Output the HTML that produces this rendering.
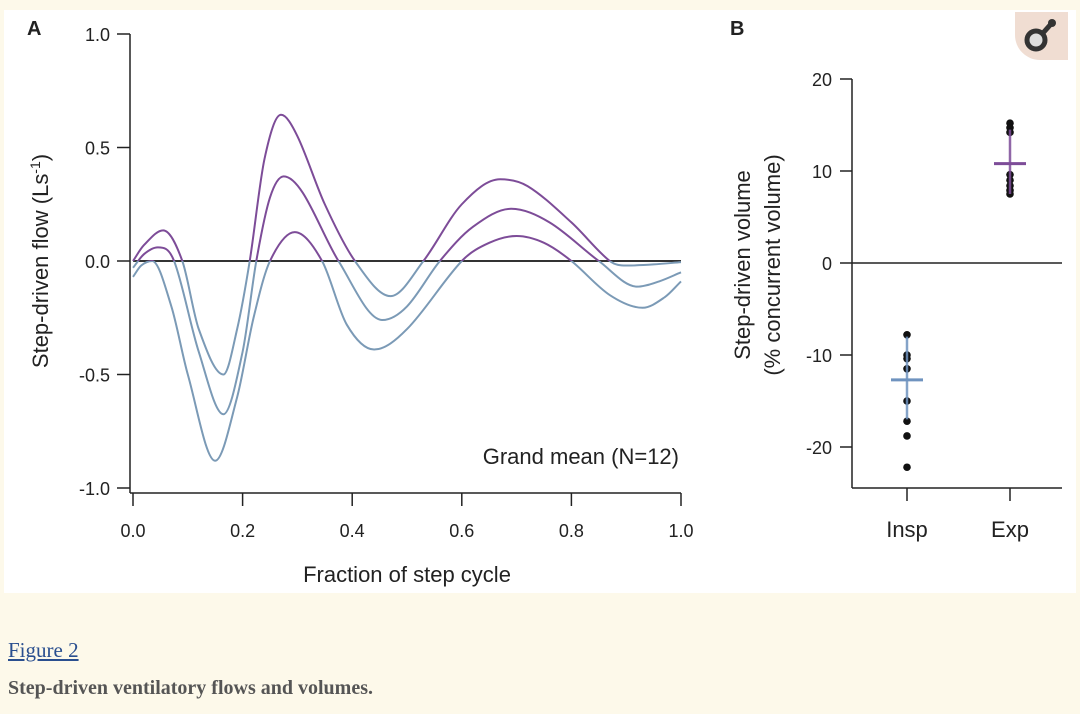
<!DOCTYPE html>
<html><head><meta charset="utf-8"><style>
body{margin:0;width:1080px;height:714px;background:#fdf9ea;overflow:hidden;font-family:"Liberation Sans",sans-serif}
svg text{font-family:"Liberation Sans",sans-serif;fill:#222}
.cap{position:absolute;left:8px;font-family:"Liberation Serif",serif}
</style></head><body>
<svg width="1080" height="600" style="position:absolute;left:0;top:0">
<rect x="4" y="10" width="1072" height="583" fill="#fff"/>
<g id="pa"></g>
<g id="pb"></g>
<g>
<path d="M1015 12 H1068 V60 H1040 A25 25 0 0 1 1015 35 Z" fill="#f0ddd2"/>
<circle cx="1036" cy="40" r="9" fill="#ddd" stroke="#333" stroke-width="5"/>
<line x1="1043" y1="33" x2="1051" y2="24" stroke="#333" stroke-width="5"/>
<circle cx="1052" cy="23" r="4" fill="#333"/>
</g>
</svg>
<a class="cap" style="top:638px;font-size:21px;color:#2a4f8f;text-decoration:underline">Figure 2</a>
<div class="cap" style="top:677px;font-size:20px;font-weight:bold;color:#555">Step-driven ventilatory flows and volumes.</div>
<script>
const NS="http://www.w3.org/2000/svg";
const xsUpper=[0,0.02,0.055,0.09,0.12,0.165,0.19,0.213,0.24,0.27,0.3,0.35,0.405,0.47,0.53,0.6,0.67,0.72,0.8,0.87,0.9,0.95,1.0];
const ysUpper=[0,0.07,0.135,0,-0.3,-0.5,-0.3,0,0.45,0.644,0.55,0.25,0,-0.155,0,0.25,0.36,0.33,0.17,0,-0.02,-0.015,-0.005];
const xsMid=[0,0.02,0.045,0.075,0.12,0.165,0.2,0.225,0.25,0.275,0.31,0.375,0.455,0.5,0.56,0.62,0.69,0.76,0.85,0.92,0.96,1.0];
const ysMid=[-0.03,0.03,0.06,0,-0.4,-0.675,-0.4,0,0.28,0.373,0.3,0,-0.26,-0.2,0,0.15,0.23,0.17,0,-0.113,-0.09,-0.05];
const xsLow=[0,0.015,0.035,0.07,0.1,0.15,0.19,0.22,0.25,0.295,0.345,0.39,0.44,0.5,0.6,0.65,0.7,0.75,0.8,0.87,0.93,0.97,1.0];
const ysLow=[-0.07,-0.02,0,-0.2,-0.5,-0.88,-0.6,-0.25,0,0.127,0,-0.28,-0.39,-0.3,0,0.08,0.11,0.08,0,-0.15,-0.206,-0.16,-0.09];
const xTicksA=[0,0.2,0.4,0.6,0.8,1.0];
const xTickLabelsA=["0.0","0.2","0.4","0.6","0.8","1.0"];
const yTicksA=[1,0.5,0,-0.5,-1];
const yTickLabelsA=["1.0","0.5","0.0","-0.5","-1.0"];
const inspPoints=[-7.8,-10,-10.4,-11.5,-15,-17.2,-18.8,-22.2];
const expPoints=[15.2,14.7,14.2,9.6,9,8.4,7.9,7.5];
const groupMeans=[-12.7,10.8];
const groupLow=[-17,7.5];
const groupHigh=[-8,14.5];
const groupNames=["Insp","Exp"];
const yTicksB=[20,10,0,-10,-20];

const ax=v=>133+v*548, ay=v=>261-v*227;
const bx=i=>[907,1010][i], by=v=>263-v*9.2;
function el(p,t,a){const e=document.createElementNS(NS,t);for(const k in a)e.setAttribute(k,a[k]);p.appendChild(e);return e;}
function txt(p,x,y,s,size,anchor,rot){const t=el(p,"text",{x:x,y:y,"font-size":size,"text-anchor":anchor||"middle"});if(rot)t.setAttribute("transform",`rotate(-90 ${x} ${y})`);t.textContent=s;return t;}
const A=document.getElementById("pa"),B=document.getElementById("pb");
const defs=el(A,"defs",{});
const c1=el(defs,"clipPath",{id:"above"});el(c1,"rect",{x:0,y:0,width:1080,height:ay(0)});
const c2=el(defs,"clipPath",{id:"below"});el(c2,"rect",{x:0,y:ay(0),width:1080,height:600});
const tA=txt(A,27,35,"A",20,"start");tA.setAttribute("font-weight","bold");


const yl=el(A,"line",{x1:130,y1:ay(1),x2:130,y2:493,stroke:"#222","stroke-width":1.5});


const xl=el(A,"line",{x1:130,y1:493,x2:ax(1),y2:493,stroke:"#222","stroke-width":1.5});


yTicksA.forEach((v,i)=>{el(A,"line",{x1:117,y1:ay(v),x2:130,y2:ay(v),stroke:"#222","stroke-width":1.5});
const t=txt(A,110,ay(v)+7,yTickLabelsA[i],18,"end");

});
xTicksA.forEach((v,i)=>{el(A,"line",{x1:ax(v),y1:493,x2:ax(v),y2:506,stroke:"#222","stroke-width":1.5});
const t=txt(A,ax(v),537,xTickLabelsA[i],18);

});
const xt=txt(A,407,582,"Fraction of step cycle",22);


const yt=el(A,"text",{x:48,y:261,"font-size":22,"text-anchor":"middle",transform:"rotate(-90 48 261)"});
yt.innerHTML='Step-driven flow (Ls<tspan dy="-8" font-size="14">-1</tspan><tspan dy="8">)</tspan>';


const gm=txt(A,679,464,"Grand mean (N=12)",22,"end");


const z=el(A,"line",{x1:133,y1:ay(0),x2:ax(1),y2:ay(0),stroke:"#333","stroke-width":2});


function pathD(xs,ys){const n=xs.length;const m=[];
for(let i=0;i<n;i++){
 if(i===0)m.push((ys[1]-ys[0])/(xs[1]-xs[0]));
 else if(i===n-1)m.push((ys[n-1]-ys[n-2])/(xs[n-1]-xs[n-2]));
 else{const a=ys[i]-ys[i-1],b=ys[i+1]-ys[i];
  if(a*b<=0)m.push(0);else m.push((ys[i+1]-ys[i-1])/(xs[i+1]-xs[i-1]));}}
let d=`M${ax(xs[0])},${ay(ys[0])}`;
for(let i=0;i<n-1;i++){const h=(xs[i+1]-xs[i])/3;
d+=`C${ax(xs[i]+h)},${ay(ys[i]+m[i]*h)} ${ax(xs[i+1]-h)},${ay(ys[i+1]-m[i+1]*h)} ${ax(xs[i+1])},${ay(ys[i+1])}`;}
return d;}
[[xsUpper,ysUpper,"upper-bound-line"],[xsMid,ysMid,"mean-flow-line"],[xsLow,ysLow,"lower-bound-line"]].forEach(s=>{
const d=pathD(s[0],s[1]);
const g=el(A,"g",{});


el(g,"path",{d:d,fill:"none",stroke:"#7d4c98","stroke-width":2,"clip-path":"url(#above)"});
el(g,"path",{d:d,fill:"none",stroke:"#7b9ab6","stroke-width":2,"clip-path":"url(#below)"});});
const tB=txt(B,730,35,"B",20,"start");tB.setAttribute("font-weight","bold");


const yb=el(B,"line",{x1:852,y1:by(20),x2:852,y2:488,stroke:"#222","stroke-width":1.5});


const xb=el(B,"line",{x1:852,y1:488,x2:1062,y2:488,stroke:"#222","stroke-width":1.5});


const zb=el(B,"line",{x1:852,y1:by(0),x2:1062,y2:by(0),stroke:"#222","stroke-width":1.5});


yTicksB.forEach(v=>{el(B,"line",{x1:840,y1:by(v),x2:852,y2:by(v),stroke:"#222","stroke-width":1.5});
const t=txt(B,832,by(v)+7,String(v),18,"end");

});
groupNames.forEach((n,i)=>{el(B,"line",{x1:bx(i),y1:488,x2:bx(i),y2:501,stroke:"#222","stroke-width":1.5});
const t=txt(B,bx(i),537,n,22);

});
const l1=txt(B,750,265,"Step-driven volume",22,"middle",true);


const l2=txt(B,780,265,"(% concurrent volume)",22,"middle",true);


[inspPoints,expPoints].forEach((pts,i)=>{pts.forEach(v=>{const c=el(B,"circle",{cx:bx(i),cy:by(v),r:3.8,fill:"#111"});

});
const col=i?"#7d4c98":"#6f93bf";
const g=el(B,"g",{});


el(g,"line",{x1:bx(i),y1:by(groupLow[i]),x2:bx(i),y2:by(groupHigh[i]),stroke:col,"stroke-width":2.5,opacity:0.85});
el(g,"line",{x1:bx(i)-16,y1:by(groupMeans[i]),x2:bx(i)+16,y2:by(groupMeans[i]),stroke:col,"stroke-width":3});});
</script>
</body></html>
